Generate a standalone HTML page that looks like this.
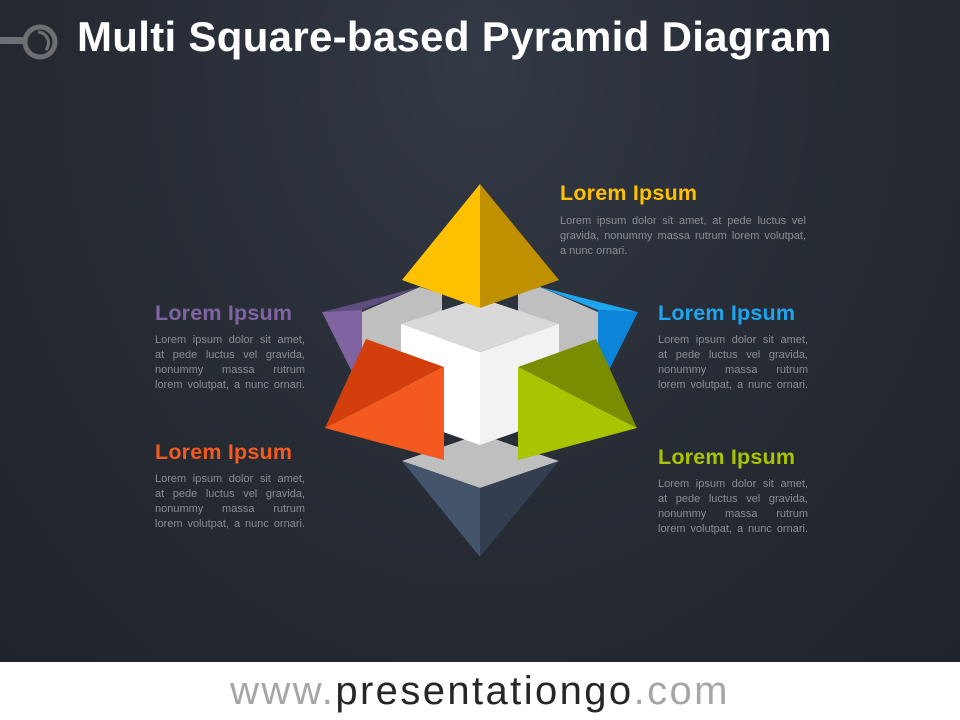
<!DOCTYPE html>
<html><head><style>
body{margin:0;width:960px;height:720px;overflow:hidden;font-family:"Liberation Sans",sans-serif;}
#bg{position:absolute;left:0;top:0;width:960px;height:662px;background:radial-gradient(ellipse at 50% 10%,#333945 0%,#262b34 55%,#1f232b 100%);}
#foot{position:absolute;left:0;top:662px;width:960px;height:58px;background:#fff;text-align:center;font-size:40px;line-height:58px;letter-spacing:2.4px;}
h1{position:absolute;left:77px;top:13px;margin:0;color:#fff;font-size:42px;font-weight:bold;white-space:nowrap;letter-spacing:0.3px;}
.t{position:absolute;font-size:21.5px;font-weight:bold;white-space:nowrap;letter-spacing:0.2px;}
.p{position:absolute;width:150px;font-size:11px;line-height:15px;color:#8a8d93;}
.p div{text-align:justify;text-align-last:justify;white-space:nowrap;}
.p div.l{text-align-last:left}
</style></head><body>
<div id="bg"></div>
<svg style="position:absolute;left:0;top:0" width="960" height="662">
<rect x="0" y="37" width="24" height="7" fill="#6e6f73"/>
<circle cx="40" cy="42" r="15" fill="none" stroke="#6e6f73" stroke-width="5"/>
<path d="M38 32 A11 11 0 0 1 46 50" fill="none" stroke="#6e6f73" stroke-width="3"/>
<polygon points="362,312 420,287 442,294 442,372 362,402" fill="#bfbfbf"/>
<polygon points="598,312 540,287 518,294 518,372 598,402" fill="#bfbfbf"/>
<polygon points="322,312 420,287 362,310" fill="#5f4d80"/>
<polygon points="322,312 362,310 362,385 352,372" fill="#8064a2"/>
<polygon points="638,312 540,287 598,310" fill="#1ea5f0"/>
<polygon points="638,312 598,310 598,385 608,372" fill="#0c85d8"/>
<polygon points="402,461 480,434 559,461 480,488" fill="#bfbfbf"/>
<polygon points="402,461 480,488 480,557" fill="#44546a"/>
<polygon points="559,461 480,488 480,557" fill="#333e50"/>
<polygon points="401,324 480,298 559,324 480,352" fill="#d9d9d9"/>
<polygon points="401,324 480,352 480,445 401,417" fill="#ffffff"/>
<polygon points="559,324 480,352 480,445 559,417" fill="#f2f2f2"/>
<polygon points="480,184 402,280 480,308" fill="#ffc000"/>
<polygon points="480,184 559,280 480,308" fill="#bf9000"/>
<polygon points="366,339 444,367 325,428" fill="#d33f0c"/>
<polygon points="444,367 444,460 325,428" fill="#f45a1f"/>
<polygon points="596,339 518,367 637,428" fill="#7a8c00"/>
<polygon points="518,367 518,460 637,428" fill="#a9c400"/>
</svg>
<h1>Multi Square-based Pyramid Diagram</h1>
<div class="t" style="left:560px;top:181px;color:#ffc000">Lorem Ipsum</div>
<div class="p" style="left:560px;top:214px;width:246px"><div>Lorem ipsum dolor sit amet, at pede luctus vel</div><div>gravida, nonummy massa rutrum lorem volutpat,</div><div class="l">a nunc ornari.</div></div>
<div class="t" style="left:155px;top:301px;color:#8064a2">Lorem Ipsum</div>
<div class="p" style="left:155px;top:333px"><div>Lorem ipsum dolor sit amet,</div><div>at pede luctus vel gravida,</div><div>nonummy massa rutrum</div><div>lorem volutpat, a nunc ornari.</div></div>
<div class="t" style="left:658px;top:301px;color:#1ea5f0">Lorem Ipsum</div>
<div class="p" style="left:658px;top:333px"><div>Lorem ipsum dolor sit amet,</div><div>at pede luctus vel gravida,</div><div>nonummy massa rutrum</div><div>lorem volutpat, a nunc ornari.</div></div>
<div class="t" style="left:155px;top:440px;color:#f45a1f">Lorem Ipsum</div>
<div class="p" style="left:155px;top:472px"><div>Lorem ipsum dolor sit amet,</div><div>at pede luctus vel gravida,</div><div>nonummy massa rutrum</div><div>lorem volutpat, a nunc ornari.</div></div>
<div class="t" style="left:658px;top:445px;color:#a9c400">Lorem Ipsum</div>
<div class="p" style="left:658px;top:477px"><div>Lorem ipsum dolor sit amet,</div><div>at pede luctus vel gravida,</div><div>nonummy massa rutrum</div><div>lorem volutpat, a nunc ornari.</div></div>
<div id="foot"><span style="color:#a6a6a6">www.</span><span style="color:#262626">presentationgo</span><span style="color:#a6a6a6">.com</span></div>
</body></html>
